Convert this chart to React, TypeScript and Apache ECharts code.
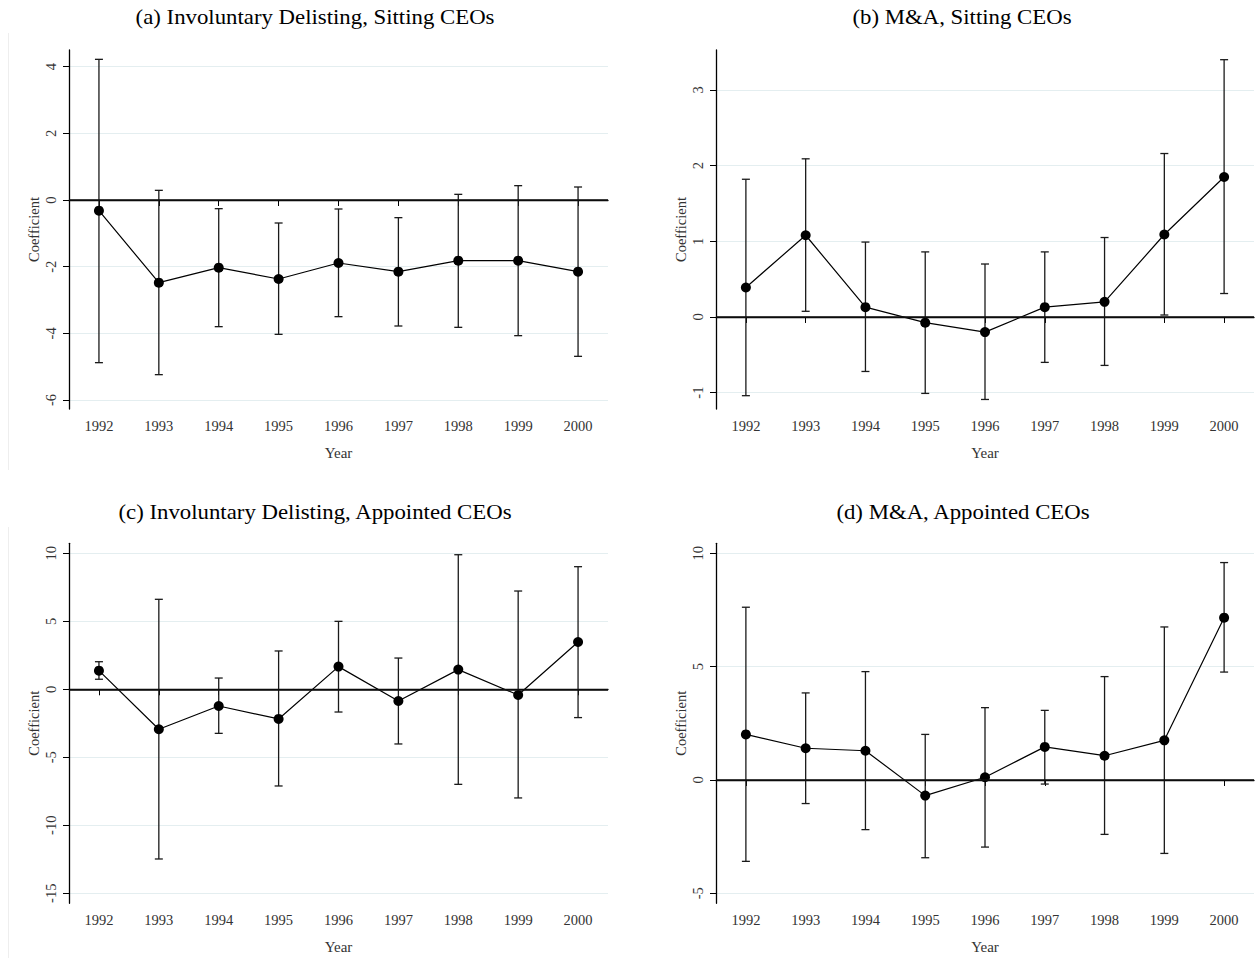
import React, { useEffect, useRef } from "react";
import * as echarts from "echarts";

const years = ["1992", "1993", "1994", "1995", "1996", "1997", "1998", "1999", "2000"];

// (a) Involuntary Delisting, Sitting CEOs
const aCoef = [-0.32, -2.48, -2.03, -2.37, -1.89, -2.15, -1.82, -1.82, -2.15];
const aLow = [-4.88, -5.24, -3.8, -4.03, -3.5, -3.78, -3.82, -4.07, -4.69];
const aHigh = [4.22, 0.29, -0.26, -0.69, -0.27, -0.53, 0.17, 0.43, 0.39];
const aTicks = [-6, -4, -2, 0, 2, 4];

// (b) M&A, Sitting CEOs
const bCoef = [0.39, 1.08, 0.13, -0.075, -0.2, 0.13, 0.2, 1.09, 1.85];
const bLow = [-1.04, 0.075, -0.72, -1.01, -1.09, -0.6, -0.64, 0.026, 0.31];
const bHigh = [1.82, 2.09, 0.99, 0.86, 0.7, 0.86, 1.05, 2.16, 3.4];
const bTicks = [-1, 0, 1, 2, 3];

// (c) Involuntary Delisting, Appointed CEOs
const cCoef = [1.37, -2.94, -1.23, -2.18, 1.67, -0.86, 1.45, -0.42, 3.48];
const cLow = [0.74, -12.48, -3.24, -7.11, -1.67, -4.02, -6.99, -7.99, -2.08];
const cHigh = [2.03, 6.62, 0.83, 2.82, 5.0, 2.3, 9.9, 7.23, 9.02];
const cTicks = [-15, -10, -5, 0, 5, 10];

// (d) M&A, Appointed CEOs
const dCoef = [2.01, 1.4, 1.29, -0.69, 0.12, 1.46, 1.07, 1.75, 7.16];
const dLow = [-3.59, -1.04, -2.19, -3.43, -2.96, -0.18, -2.4, -3.24, 4.76];
const dHigh = [7.62, 3.84, 4.78, 2.01, 3.19, 3.07, 4.56, 6.75, 9.59];
const dTicks = [-5, 0, 5, 10];

const titles = [
  "(a) Involuntary Delisting, Sitting CEOs",
  "(b) M&A, Sitting CEOs",
  "(c) Involuntary Delisting, Appointed CEOs",
  "(d) M&A, Appointed CEOs",
];

const FONT = "'Liberation Serif', 'DejaVu Serif', serif";

export default function App() {
  const ref = useRef<HTMLDivElement>(null);

  useEffect(() => {
    if (!ref.current) return;
    const chart = echarts.init(ref.current, undefined, { renderer: "svg" });

    const panels = [
      { coef: aCoef, low: aLow, high: aHigh, ticks: aTicks, min: -6.27, max: 4.5, grid: { left: 69, top: 50, width: 539, height: 359 } },
      { coef: bCoef, low: bLow, high: bHigh, ticks: bTicks, min: -1.216, max: 3.528, grid: { left: 716, top: 50, width: 538, height: 359 } },
      { coef: cCoef, low: cLow, high: cHigh, ticks: cTicks, min: -15.74, max: 10.74, grid: { left: 69, top: 543.3, width: 539, height: 360 } },
      { coef: dCoef, low: dLow, high: dHigh, ticks: dTicks, min: -5.44, max: 10.44, grid: { left: 716, top: 543.3, width: 538, height: 360 } },
    ];

    const grids: any[] = [];
    const xAxes: any[] = [];
    const yAxes: any[] = [];
    const series: any[] = [];

    panels.forEach((p, i) => {
      grids.push({ ...p.grid, containLabel: false, outerBoundsMode: "none" });
      xAxes.push({
        type: "category",
        gridIndex: i,
        data: years,
        boundaryGap: true,
        axisLine: { show: true, lineStyle: { color: "#000", width: 1.3 } },
        axisTick: { show: true, alignWithLabel: true, length: 6, lineStyle: { color: "#000", width: 1 } },
        axisLabel: { fontFamily: FONT, fontSize: 14.5, color: "#333", margin: 9, interval: 0 },
        splitLine: { show: false },
        name: "Year",
        nameLocation: "middle",
        nameGap: 36,
        nameTextStyle: { fontFamily: FONT, fontSize: 15, color: "#333" },
      });
      yAxes.push({
        type: "value",
        gridIndex: i,
        min: p.min,
        max: p.max,
        axisLine: { show: true, lineStyle: { color: "#000", width: 1.3 } },
        axisTick: { show: true, length: 6, customValues: p.ticks, lineStyle: { color: "#000", width: 1 } },
        axisLabel: { rotate: 90, customValues: p.ticks, fontFamily: FONT, fontSize: 14.5, color: "#333", margin: 11 },
        splitLine: { show: true, lineStyle: { color: "#e4eef0", width: 1 } },
        name: "Coefficient",
        nameLocation: "middle",
        nameGap: 28,
        nameTextStyle: { fontFamily: FONT, fontSize: 14.5, color: "#333" },
      });
      series.push({
        type: "custom",
        xAxisIndex: i,
        yAxisIndex: i,
        silent: true,
        z: 3,
        encode: { x: 0, y: [1, 2] },
        data: p.low.map((lo, k) => [k, lo, p.high[k]]),
        renderItem: (params: any, api: any) => {
          const x = api.value(0);
          const lo = api.coord([x, api.value(1)]);
          const hi = api.coord([x, api.value(2)]);
          const w = 4;
          const st = { stroke: "#1a1a1a", lineWidth: 1.3, fill: "none" };
          return {
            type: "group",
            children: [
              { type: "line", shape: { x1: lo[0], y1: lo[1], x2: hi[0], y2: hi[1] }, style: st },
              { type: "line", shape: { x1: lo[0] - w, y1: lo[1], x2: lo[0] + w, y2: lo[1] }, style: st },
              { type: "line", shape: { x1: hi[0] - w, y1: hi[1], x2: hi[0] + w, y2: hi[1] }, style: st },
            ],
          };
        },
      });
      series.push({
        type: "line",
        xAxisIndex: i,
        yAxisIndex: i,
        z: 4,
        data: p.coef,
        symbol: "circle",
        symbolSize: 10,
        showSymbol: true,
        itemStyle: { color: "#000" },
        lineStyle: { color: "#000", width: 1.2 },
        markLine: {
          silent: true,
          symbol: "none",
          label: { show: false },
          lineStyle: { color: "#111", width: 1.5, type: "solid" },
          data: [{ yAxis: 0 }],
        },
      });
    });

    const titlePos = [
      [315, 17],
      [962, 17],
      [315, 512],
      [963, 512],
    ];

    const graphic: any[] = titlePos.map((pos, i) => ({
      type: "text",
      x: pos[0],
      y: pos[1],
      scaleX: 1.14,
      style: {
        text: titles[i],
        fontFamily: FONT,
        fontSize: 20,
        fill: "#000",
        textAlign: "center",
        textVerticalAlign: "middle",
      },
    }));
    graphic.push(
      { type: "line", shape: { x1: 8.5, y1: 33, x2: 8.5, y2: 470 }, style: { stroke: "#eeeeee", lineWidth: 1 } },
      { type: "line", shape: { x1: 8.5, y1: 527, x2: 8.5, y2: 958 }, style: { stroke: "#eeeeee", lineWidth: 1 } }
    );

    chart.setOption({
      animation: false,
      backgroundColor: "#fff",
      grid: grids,
      xAxis: xAxes,
      yAxis: yAxes,
      series,
      graphic,
    });

    return () => chart.dispose();
  }, []);

  return (
    <div
      ref={ref}
      style={{ position: "absolute", left: 0, top: 0, width: 1255, height: 975 }}
    />
  );
}
